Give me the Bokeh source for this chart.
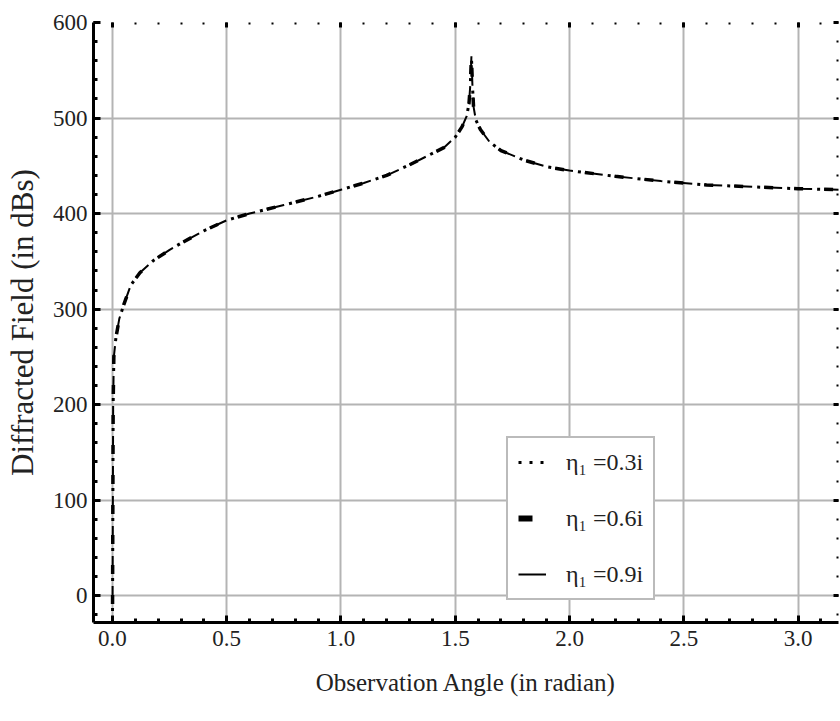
from bokeh.plotting import figure
from bokeh.models import (Range1d, LinearAxis, SingleIntervalTicker, NumeralTickFormatter,
                          Legend, LegendItem, ColumnDataSource, CustomJSTickFormatter)
from bokeh.embed import file_html
from bokeh.resources import INLINE

# ---- data ----
theta = [0.0, 0.003, 0.006, 0.015, 0.03, 0.05, 0.08, 0.12, 0.18, 0.25, 0.3, 0.4, 0.5,
         0.6, 0.75, 0.9, 1.0, 1.1, 1.2, 1.3, 1.4, 1.45, 1.5, 1.53, 1.55, 1.56, 1.566,
         1.5708, 1.575, 1.58, 1.59, 1.61, 1.65, 1.7, 1.8, 1.9, 2.0, 2.2, 2.4, 2.6, 2.8,
         3.0, 3.18]
field_03 = [-40, 200, 250, 270, 290, 305, 325, 338, 351, 362, 369, 382, 393,
            400, 409, 418, 425, 432, 440, 451, 463, 469, 480, 491, 502, 515, 535,
            565, 535, 512, 498, 488, 475, 466, 456, 449, 445, 439, 434, 430, 428,
            426, 425]
field_06 = list(field_03)
field_09 = list(field_03)
labels = ["η₁ =0.3i", "η₁ =0.6i", "η₁ =0.9i"]
x_label = "Observation Angle (in radian)"
y_label = "Diffracted Field (in dBs)"

FONT = "Liberation Serif"

p = figure(width=840, height=721, output_backend="svg", toolbar_location=None,
           x_range=Range1d(-0.083, 3.177), y_range=Range1d(-28, 600),
           min_border_left=93, min_border_right=2, min_border_top=22, min_border_bottom=99)
p.background_fill_color = "white"
p.border_fill_color = "white"
p.outline_line_color = None

# grid
p.xgrid.ticker = SingleIntervalTicker(interval=0.5, num_minor_ticks=5)
p.ygrid.ticker = SingleIntervalTicker(interval=100, num_minor_ticks=5)
for g in (p.xgrid, p.ygrid):
    g.grid_line_color = "#b4b4b4"
    g.grid_line_width = 2

# axes
xa = p.xaxis[0]
ya = p.yaxis[0]
xa.ticker = SingleIntervalTicker(interval=0.5, num_minor_ticks=5)
ya.ticker = SingleIntervalTicker(interval=100, num_minor_ticks=5)
xa.formatter = NumeralTickFormatter(format="0.0")
for ax in (xa, ya):
    ax.axis_line_color = "black"
    ax.axis_line_width = 3
    ax.major_tick_in = 7
    ax.major_tick_out = 0
    ax.minor_tick_in = 4
    ax.minor_tick_out = 0
    ax.major_tick_line_width = 3
    ax.minor_tick_line_width = 3
    ax.major_tick_line_color = "black"
    ax.minor_tick_line_color = "black"
    ax.major_label_text_font = FONT
    ax.major_label_text_font_size = "23px"
    ax.major_label_text_color = "#222222"
    ax.axis_label_text_font = FONT
    ax.axis_label_text_font_style = "normal"
    ax.axis_label_text_color = "#222222"
xa.axis_label = x_label
ya.axis_label = y_label
xa.axis_label_text_font_size = "25px"
ya.axis_label_text_font_size = "31px"
xa.major_label_standoff = 8
ya.major_label_standoff = 6
xa.axis_label_standoff = 20
ya.axis_label_standoff = 10

# top / right tick rows (no labels)
blank = CustomJSTickFormatter(code="return '';")
top = LinearAxis(ticker=SingleIntervalTicker(interval=0.5, num_minor_ticks=5), formatter=blank)
right = LinearAxis(ticker=SingleIntervalTicker(interval=100, num_minor_ticks=5), formatter=blank)
for ax in (top, right):
    ax.axis_line_color = None
    ax.major_tick_in = 5
    ax.major_tick_out = 0
    ax.minor_tick_in = 2
    ax.minor_tick_out = 0
    ax.major_tick_line_width = 3
    ax.minor_tick_line_width = 2
    ax.major_label_standoff = 0
p.add_layout(top, "above")
p.add_layout(right, "right")

# curves (three overlapping series -> dash-dot look)
src = ColumnDataSource(dict(x=theta, y3=field_03, y6=field_06, y9=field_09))
p.line("x", "y9", source=src, line_color="black", line_width=2, line_dash="18 12")
p.line("x", "y6", source=src, line_color="black", line_width=3.5, line_dash="9 21")
p.line("x", "y3", source=src, line_color="black", line_width=3, line_dash="3 27",
       line_dash_offset=-23)

# legend samples (renderers holding one empty point so only the legend glyph shows)
nan = float("nan")
dummy = ColumnDataSource(dict(x=[nan], y=[nan]))
r1 = p.line("x", "y", source=dummy, line_color="black", line_width=3, line_dash="3 8")
r2 = p.line("x", "y", source=dummy, line_color="black", line_width=6, line_dash="14 40")
r3 = p.line("x", "y", source=dummy, line_color="black", line_width=2)
legend = Legend(items=[LegendItem(label=labels[0], renderers=[r1]),
                       LegendItem(label=labels[1], renderers=[r2]),
                       LegendItem(label=labels[2], renderers=[r3])],
                location=(413, 22))
legend.margin = 0
legend.padding = 10
legend.spacing = 28
legend.glyph_width = 28
legend.glyph_height = 28
legend.label_height = 28
legend.label_standoff = 20
legend.label_text_font = FONT
legend.label_text_font_size = "24px"
legend.label_text_color = "#222222"
legend.border_line_color = "#777777"
legend.border_line_width = 2
legend.background_fill_color = "white"
legend.background_fill_alpha = 1
p.add_layout(legend, "center")

open("out.html", "w").write(file_html(p, INLINE))
